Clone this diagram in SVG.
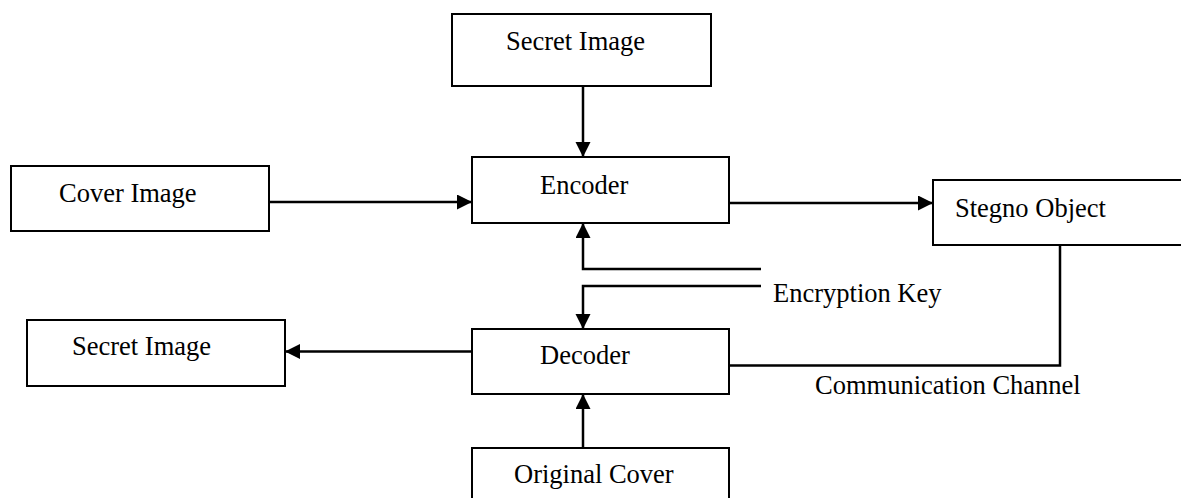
<svg xmlns="http://www.w3.org/2000/svg" width="1181" height="498" viewBox="0 0 1181 498">
  <style>
    .box { fill: #ffffff; stroke: #000000; stroke-width: 2; }
    .lbl { font-family: "Liberation Serif", "Times New Roman", serif; font-size: 26.5px; fill: #000000; }
    .conn { fill: none; stroke: #000000; stroke-width: 2.5; }
  </style>
  <defs>
    <marker id="arrow" markerUnits="userSpaceOnUse" markerWidth="16" markerHeight="16" refX="15" refY="7.5" orient="auto">
      <path d="M0,0 L15,7.5 L0,15 z" fill="#000000"/>
    </marker>
  </defs>
  <rect width="1181" height="498" fill="#ffffff"/>

  <g id="connectors">
    <line class="conn" x1="583" y1="86" x2="583" y2="157" marker-end="url(#arrow)"/>
    <line class="conn" x1="269" y1="202" x2="472" y2="202" marker-end="url(#arrow)"/>
    <line class="conn" x1="729" y1="203" x2="933" y2="203" marker-end="url(#arrow)"/>
    <polyline class="conn" points="761,269 583,269 583,223" marker-end="url(#arrow)"/>
    <polyline class="conn" points="761,286 583,286 583,329" marker-end="url(#arrow)"/>
    <polyline class="conn" points="1060,245 1060,365.5 729,365.5"/>
    <line class="conn" x1="472" y1="351.5" x2="285" y2="351.5" marker-end="url(#arrow)"/>
    <line class="conn" x1="583" y1="448" x2="583" y2="394" marker-end="url(#arrow)"/>
  </g>

  <g id="secret-image-top">
    <rect class="box" x="452" y="14" width="259" height="72"/>
    <text class="lbl" x="506" y="50">Secret Image</text>
  </g>
  <g id="cover-image">
    <rect class="box" x="11" y="166" width="258" height="65"/>
    <text class="lbl" x="59" y="202">Cover Image</text>
  </g>
  <g id="encoder">
    <rect class="box" x="472" y="157" width="257" height="66"/>
    <text class="lbl" x="540" y="194">Encoder</text>
  </g>
  <g id="stegno-object">
    <rect class="box" x="933" y="180" width="262" height="65"/>
    <text class="lbl" x="955" y="217">Stegno Object</text>
  </g>
  <g id="secret-image-left">
    <rect class="box" x="27" y="320" width="258" height="66"/>
    <text class="lbl" x="72" y="355">Secret Image</text>
  </g>
  <g id="decoder">
    <rect class="box" x="472" y="329" width="257" height="65"/>
    <text class="lbl" x="540" y="364">Decoder</text>
  </g>
  <g id="original-cover">
    <rect class="box" x="472" y="448" width="257" height="62"/>
    <text class="lbl" x="514" y="483">Original Cover</text>
  </g>
  <g id="labels">
    <text class="lbl" x="773" y="302">Encryption Key</text>
    <text class="lbl" x="815" y="394">Communication Channel</text>
  </g>
</svg>
